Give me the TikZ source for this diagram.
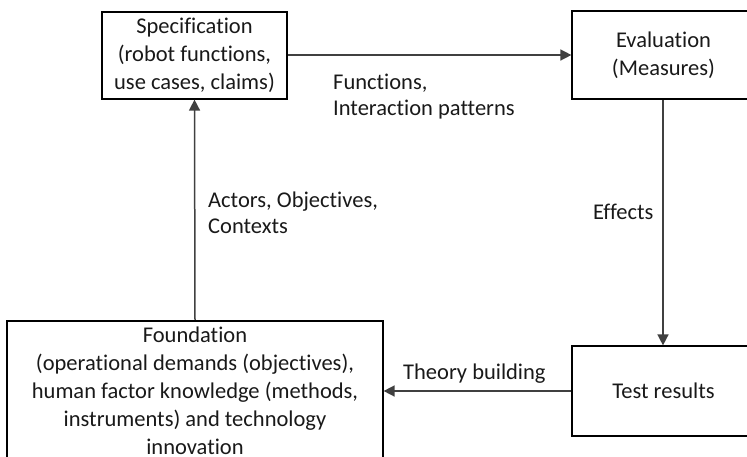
\documentclass[tikz,border=0pt]{standalone}
\usepackage{fontspec}
\setmainfont{Carlito}[Ligatures=NoCommon]
\usetikzlibrary{arrows.meta}
\begin{document}
\begin{tikzpicture}[x=1pt,y=-1pt,
  box/.style={draw=black,line width=2.2pt,rectangle,inner sep=0pt,align=center,
    font=\fontsize{22.5}{28}\selectfont,text=black!90},
  lbl/.style={inner sep=0pt,align=left,anchor=west,
    font=\fontsize{22.5}{26.5}\selectfont,text=black!90},
  flow/.style={draw=black!75,line width=1.5pt,
    -{Triangle[length=11pt,width=11pt]},shorten >=-0.5pt}]
\clip (0,0) rectangle (747,456);
\useasboundingbox (0,0) rectangle (747,456);

% the four stages
\node[box,minimum width=185pt,minimum height=87pt] (spec) at (194.5,55.5)
  {Specification\\(robot functions,\\use cases, claims)};
\node[box,minimum width=183pt,minimum height=88pt] (eval) at (663.5,55)
  {Evaluation\\(Measures)};
\node[box,minimum width=183pt,minimum height=90pt] (test) at (663.5,391)
  {Test results};
\node[box,minimum width=376pt,minimum height=140pt] (found) at (195,391)
  {Foundation\\(operational demands (objectives),\\human factor knowledge (methods,\\instruments) and technology\\innovation};

% connectors of the cycle
\draw[flow] (spec.east |- 0,55) -- (eval.west |- 0,55);
\draw[flow] (eval.south -| 663,0) -- (test.north -| 663,0);
\draw[flow] (test.west |- 0,391) -- (found.east |- 0,391);
\draw[flow] (found.north) -- (spec.south);

% connector labels
\node[lbl] (l1) at (333,96.5) {Functions,\\Interaction patterns};
\node[lbl] (l2) at (208,213) {Actors, Objectives,\\Contexts};
\node[lbl] (l3) at (593,212) {Effects};
\node[lbl] (l4) at (403,374) {Theory building};
\end{tikzpicture}
\end{document}
